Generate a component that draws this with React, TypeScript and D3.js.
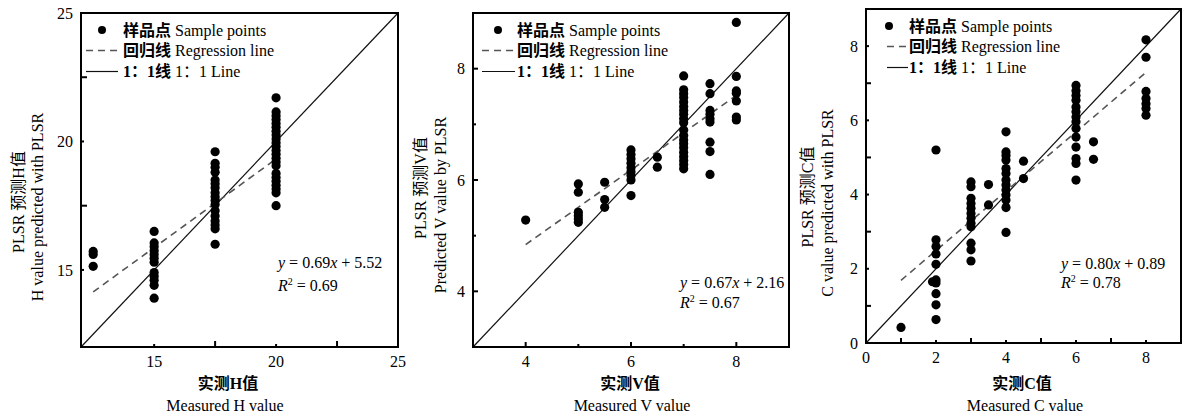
import React from 'react';
import * as d3 from 'd3';

const W = 1182;
const H = 415;
const FONT = '"Liberation Serif", "Times New Roman", "Noto Sans CJK SC", serif';

// H panel: measured levels and predicted values at each level
const hMeasured = [12.5, 15, 17.5, 20];
const hPredicted = [
  [15.72, 15.6, 15.14],
  [16.5, 16.05, 15.9, 15.75, 15.6, 15.45, 15.3, 14.9, 14.75, 14.6, 14.4, 13.9],
  [19.6, 19.15, 19.0, 18.8, 18.5, 18.35, 18.2, 18.0, 17.85, 17.7, 17.55, 17.3, 17.1, 16.9, 16.75, 16.6, 16.0],
  [21.7, 21.15, 21.0, 20.85, 20.7, 20.55, 20.4, 20.25, 20.1, 19.95, 19.8, 19.65, 19.5, 19.35, 19.2, 19.05, 18.75, 18.6, 18.45, 18.3, 18.15, 18.0, 17.5],
];

// V panel
const vMeasured = [4, 5, 5.5, 6, 6.5, 7, 7.5, 8];
const vPredicted = [
  [5.28],
  [5.93, 5.78, 5.42, 5.36, 5.3, 5.24],
  [5.96, 5.65, 5.51],
  [6.54, 6.46, 6.38, 6.3, 6.22, 6.15, 6.08, 6.0, 5.72],
  [6.41, 6.23],
  [7.87, 7.62, 7.55, 7.48, 7.4, 7.32, 7.25, 7.18, 7.1, 7.03, 6.9, 6.8, 6.72, 6.65, 6.58, 6.5, 6.42, 6.35, 6.28, 6.2],
  [7.73, 7.55, 7.25, 7.18, 7.1, 7.04, 6.68, 6.51, 6.1],
  [8.83, 7.86, 7.6, 7.56, 7.42, 7.13, 7.08],
];

// C panel
const cMeasured = [1, 1.9, 2, 3, 3.5, 4, 4.5, 6, 6.5, 8];
const cPredicted = [
  [0.42],
  [1.65],
  [5.2, 2.78, 2.6, 2.4, 2.12, 1.7, 1.62, 1.33, 1.03, 0.63],
  [4.34, 4.21, 3.9, 3.76, 3.63, 3.49, 3.36, 3.23, 3.13, 2.69, 2.51, 2.21],
  [4.27, 3.72],
  [5.69, 5.15, 5.05, 4.93, 4.7, 4.57, 4.39, 4.26, 4.12, 3.99, 3.85, 3.65, 2.98],
  [4.9, 4.43],
  [6.94, 6.8, 6.67, 6.54, 6.36, 6.23, 6.09, 5.96, 5.78, 5.55, 5.28, 4.97, 4.84, 4.39],
  [5.42, 4.95],
  [8.17, 7.7, 6.78, 6.59, 6.45, 6.32, 6.14],
];

// regression: slope, intercept, R2, x range
const hFit = [0.69, 5.52, 0.69];
const vFit = [0.67, 2.16, 0.67];
const cFit = [0.80, 0.89, 0.78];
const hFitRange = [12.5, 20];
const vFitRange = [4, 8];
const cFitRange = [1, 8];

// ticks
const hMajor = [15, 20, 25];
const hMinor = [17.5, 22.5];
const vMajor = [4, 6, 8];
const vMinor = [5, 7];
const cMajor = [0, 2, 4, 6, 8];
const cMinor = [1, 3, 5, 7];

const panels = [
  {
    key: 'H', measured: hMeasured, predicted: hPredicted, fit: hFit, fitRange: hFitRange,
    domain: [12, 25], major: hMajor, minor: hMinor, majorLen: 3, minorLen: 6,
    rect: { l: 81, t: 13, r: 398, b: 347 },
    legend: { line0: 5, line1: 37, dot: 21, text: 42 },
    eq: { x: 278, y1: 262, y2: 285 },
    yTitle: ['PLSR 预测H值', 'H value predicted with PLSR'],
    yTitlePos: [[18, 202], [37, 207]],
    xTitle: ['实测H值', 'Measured H value'],
    xTitlePos: [228, 225],
    dashes: '7,5',
  },
  {
    key: 'V', measured: vMeasured, predicted: vPredicted, fit: vFit, fitRange: vFitRange,
    domain: [3, 9], major: vMajor, minor: vMinor, majorLen: 5, minorLen: 3,
    rect: { l: 473, t: 13, r: 789, b: 347 },
    legend: { line0: 9, line1: 42, dot: 25, text: 44 },
    eq: { x: 680, y1: 282, y2: 302 },
    yTitle: ['PLSR 预测V值', 'Predicted V value by PLSR'],
    yTitlePos: [[420, 188], [440, 205]],
    xTitle: ['实测V值', 'Measured V value'],
    xTitlePos: [630, 632],
    dashes: '7,5',
  },
  {
    key: 'C', measured: cMeasured, predicted: cPredicted, fit: cFit, fitRange: cFitRange,
    domain: [0, 9], major: cMajor, minor: cMinor, majorLen: 3, minorLen: 5,
    rect: { l: 866, t: 9, r: 1181, b: 343 },
    legend: { line0: 21, line1: 42, dot: 23, text: 43 },
    eq: { x: 1061, y1: 263, y2: 282 },
    yTitle: ['PLSR 预测C值', 'C value predicted with PLSR'],
    yTitlePos: [[807, 197], [827, 203]],
    xTitle: ['实测C值', 'Measured C value'],
    xTitlePos: [1022, 1025],
    dashes: '7,5',
  },
];

function Panel({ p }) {
  const { l, t, r, b } = p.rect;
  const x = d3.scaleLinear().domain(p.domain).range([l, r]);
  const y = d3.scaleLinear().domain(p.domain).range([b, t]);
  const line = d3.line().x(d => x(d[0])).y(d => y(d[1]));
  const [slope, intercept, r2] = p.fit;
  const fitPts = p.fitRange.map(v => [v, slope * v + intercept]);
  const onePts = [p.domain, p.domain].map((_, i) => [p.domain[i], p.domain[i]]);
  const pts = p.measured.flatMap((m, i) => p.predicted[i].map(v => [m, v]));
  const fs = 16;

  return (
    <g fontFamily={FONT} fontSize={fs} fill="#000">
      <path d={line(onePts)} stroke="#111" strokeWidth={1.2} fill="none" />
      <path d={line(fitPts)} stroke="#555" strokeWidth={1.6} strokeDasharray={p.dashes} fill="none" />
      {pts.map((d, i) => (
        <circle key={i} cx={x(d[0])} cy={y(d[1])} r={4.6} fill="#000" />
      ))}
      <rect x={l} y={t} width={r - l} height={b - t} fill="none" stroke="#000" strokeWidth={2} />
      {p.major.concat(p.minor).map((v, i) => {
        const len = p.major.includes(v) ? p.majorLen : p.minorLen;
        return (
          <g key={'t' + i}>
            <line x1={x(v)} x2={x(v)} y1={b} y2={b - len} stroke="#000" strokeWidth={2} />
            <line x1={l} x2={l + len} y1={y(v)} y2={y(v)} stroke="#000" strokeWidth={2} />
          </g>
        );
      })}
      {p.major.map(v => (
        <text key={'xl' + v} x={x(v)} y={b + 20} textAnchor="middle">{v}</text>
      ))}
      {p.major.map(v => (
        <text key={'yl' + v} x={l - 8} y={y(v)} dy="0.35em" textAnchor="end">{v}</text>
      ))}
      {/* legend */}
      <circle cx={l + p.legend.dot} cy={t + 17} r={4} fill="#000" />
      <text x={l + p.legend.text} y={t + 17} dy="0.35em">
        <tspan fontWeight="bold">样品点</tspan>{' Sample points'}
      </text>
      <line x1={l + p.legend.line0} x2={l + p.legend.line1} y1={t + 37.5} y2={t + 37.5}
        stroke="#555" strokeWidth={1.6} strokeDasharray={p.dashes} />
      <text x={l + p.legend.text} y={t + 37.5} dy="0.35em">
        <tspan fontWeight="bold">回归线</tspan>{' Regression line'}
      </text>
      <line x1={l + p.legend.line0} x2={l + p.legend.line1} y1={t + 58.5} y2={t + 58.5}
        stroke="#111" strokeWidth={1.2} />
      <text x={l + p.legend.text} y={t + 58.5} dy="0.35em">
        <tspan fontWeight="bold">1：1线</tspan>{' 1：1 Line'}
      </text>
      {/* equation */}
      <text x={p.eq.x} y={p.eq.y1} dy="0.35em">
        <tspan fontStyle="italic">y</tspan>{` = ${slope.toFixed(2)}`}
        <tspan fontStyle="italic">x</tspan>{` + ${intercept.toFixed(2)}`}
      </text>
      <text x={p.eq.x} y={p.eq.y2} dy="0.35em">
        <tspan fontStyle="italic">R</tspan>
        <tspan fontSize={10} dy="-6">2</tspan>
        <tspan dy="6">{` = ${r2.toFixed(2)}`}</tspan>
      </text>
      {/* axis titles */}
      {p.yTitle.map((s, i) => (
        <text key={'yt' + i} transform={`translate(${p.yTitlePos[i][0]},${p.yTitlePos[i][1]}) rotate(-90)`}
          textAnchor="middle" dy="0.35em">{s}</text>
      ))}
      <text x={p.xTitlePos[0]} y={383} dy="0.35em" textAnchor="middle" fontWeight="bold">{p.xTitle[0]}</text>
      <text x={p.xTitlePos[1]} y={405} dy="0.35em" textAnchor="middle">{p.xTitle[1]}</text>
    </g>
  );
}

export default function App() {
  return (
    <svg width={W} height={H} style={{ position: 'absolute', left: 0, top: 0, background: '#fff' }}>
      <rect width={W} height={H} fill="#fff" />
      {panels.map(p => <Panel key={p.key} p={p} />)}
    </svg>
  );
}
